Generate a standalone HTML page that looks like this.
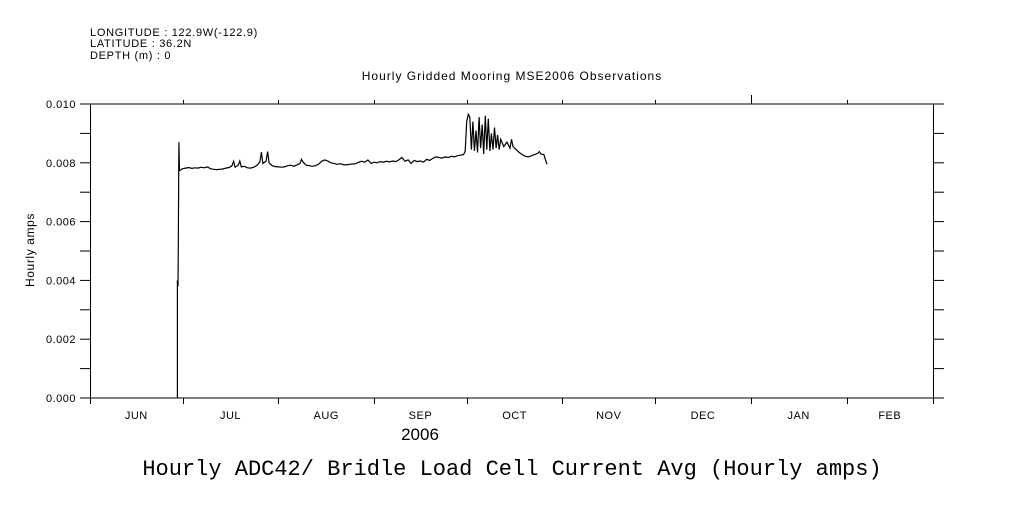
<!DOCTYPE html>
<html><head><meta charset="utf-8"><style>
body{margin:0;background:#fff;}
svg text{font-family:"Liberation Sans",sans-serif;fill:#000;}
</style></head><body>
<svg id="chart" width="1009" height="504" xmlns="http://www.w3.org/2000/svg">
<text x="90" y="36" font-size="11" letter-spacing="0.7">LONGITUDE : 122.9W(-122.9)</text>
<text x="90" y="47" font-size="11" letter-spacing="0.7">LATITUDE : 36.2N</text>
<text x="90" y="59" font-size="11" letter-spacing="0.7">DEPTH (m) : 0</text>
<text x="512" y="80" font-size="12" letter-spacing="1" text-anchor="middle">Hourly Gridded Mooring MSE2006 Observations</text>
<text transform="translate(34,250) rotate(-90)" font-size="12" letter-spacing="0.6" text-anchor="middle">Hourly amps</text>
<text x="420" y="440" font-size="17" text-anchor="middle">2006</text>
<text x="512" y="475" font-size="22" text-anchor="middle" style="font-family:'Liberation Mono',monospace">Hourly ADC42/ Bridle Load Cell Current Avg (Hourly amps)</text>
<g id="axes"></g>
<path id="series" fill="none" stroke="#000" stroke-width="1.2"/>
</svg>
<script>
const monthLabels=["JUN","JUL","AUG","SEP","OCT","NOV","DEC","JAN","FEB"];
const monthStarts=[0,30,61,92,122,153,183,214,245,273];
const yTicks=[0,0.002,0.004,0.006,0.008,0.010];
const days=[28.3,28.3,28.5,28.6,28.8,29,30,31,32,33,34,35,36,37,38,39,40,41,42,43,44,45,46,46.5,47,48,48.5,49,50,51,52,53,54,55,55.5,56,57,57.5,58,59,60,61,62,63,64,65,66,67,68,68.5,69,70,71,72,73,74,75,76,77,78,79,80,81,82,83,84,85,86,87,88,89,90,91,92,93,94,95,96,97,98,99,100,101,102,103,104,105,106,107,108,109,110,111,112,113,114,115,116,117,118,119,120,121,121.5,122,122.5,123,123.5,124,124.5,125,125.5,126,126.5,127,127.5,128,128.5,129,129.5,130,130.5,131,131.5,132,132.5,133,134,135,136,136.5,137,138,139,140,141,142,143,144,145,145.5,146,147,147.5,148];
const milliAmps=[0,4.0,3.8,5.2,8.7,7.73,7.80,7.82,7.84,7.81,7.83,7.82,7.85,7.83,7.86,7.80,7.78,7.77,7.78,7.79,7.82,7.84,7.90,8.05,7.85,7.92,8.06,7.86,7.88,7.83,7.82,7.85,7.90,8.02,8.36,7.98,8.05,8.38,8.00,7.90,7.87,7.86,7.85,7.86,7.90,7.92,7.88,7.93,7.98,8.12,8.02,7.92,7.90,7.88,7.90,7.95,8.05,8.10,8.06,8.00,7.98,7.95,7.97,7.94,7.93,7.95,7.96,7.97,8.02,8.05,8.02,8.10,7.98,8.02,8.00,8.04,8.02,8.05,8.03,8.06,8.04,8.10,8.18,8.05,8.10,7.98,8.08,8.04,8.06,8.02,8.12,8.08,8.15,8.20,8.18,8.16,8.20,8.18,8.22,8.20,8.24,8.26,8.28,8.40,9.40,9.65,9.55,8.45,9.40,8.40,9.10,8.35,9.55,8.50,9.30,8.30,9.60,8.45,9.50,8.40,9.00,8.45,9.20,8.50,8.95,8.45,8.80,8.55,8.70,8.50,8.80,8.55,8.45,8.35,8.28,8.22,8.20,8.24,8.28,8.32,8.38,8.30,8.28,8.10,7.95];
const X0=90,X1=933,Y0=398,Y1=104;
const xs=d=>X0+(X1-X0)*d/273;
const ys=v=>Y0-(Y0-Y1)*v/0.010;
const NS="http://www.w3.org/2000/svg";
const g=document.getElementById('axes');
function line(x1,y1,x2,y2,name){const l=document.createElementNS(NS,'line');l.setAttribute('x1',x1);l.setAttribute('y1',y1);l.setAttribute('x2',x2);l.setAttribute('y2',y2);l.setAttribute('stroke','#000');l.setAttribute('stroke-width','1');


g.appendChild(l);}
function text(x,y,s,anchor,name){const t=document.createElementNS(NS,'text');t.setAttribute('x',x);t.setAttribute('y',y);t.setAttribute('font-size','11');t.setAttribute('letter-spacing','0.5');t.setAttribute('text-anchor',anchor);t.textContent=s;


g.appendChild(t);}
line(X0,Y1,944,Y1,'top-axis');line(X0,Y0,944,Y0,'bottom-axis');
line(X0+0.5,Y1,X0+0.5,Y0,'left-axis');line(X1+0.5,Y1,X1+0.5,Y0,'right-axis');
for(let i=0;i<=10;i++){const y=Y0-(Y0-Y1)*i/10;line(80,y,X0,y,'y-tick');line(X1,y,944,y,'y-tick-right');}
yTicks.forEach(v=>text(76,ys(v)+4,v.toFixed(3),'end','y-tick-label'));
monthStarts.forEach((d,i)=>{const x=Math.round(xs(d))+0.5;line(x,Y0,x,Y0+6,'x-tick');if(i>0&&i<monthStarts.length-1)line(x,Y1,x,Y1-(i==7?9:4),'x-tick-top');});
monthLabels.forEach((m,i)=>text(xs((monthStarts[i]+monthStarts[i+1])/2),419,m,'middle','month-label'));
let d='';days.forEach((t,i)=>{d+=(i?'L':'M')+xs(t).toFixed(1)+','+ys(milliAmps[i]/1000).toFixed(1);});
document.getElementById('series').setAttribute('d',d);
</script>
</body></html>
